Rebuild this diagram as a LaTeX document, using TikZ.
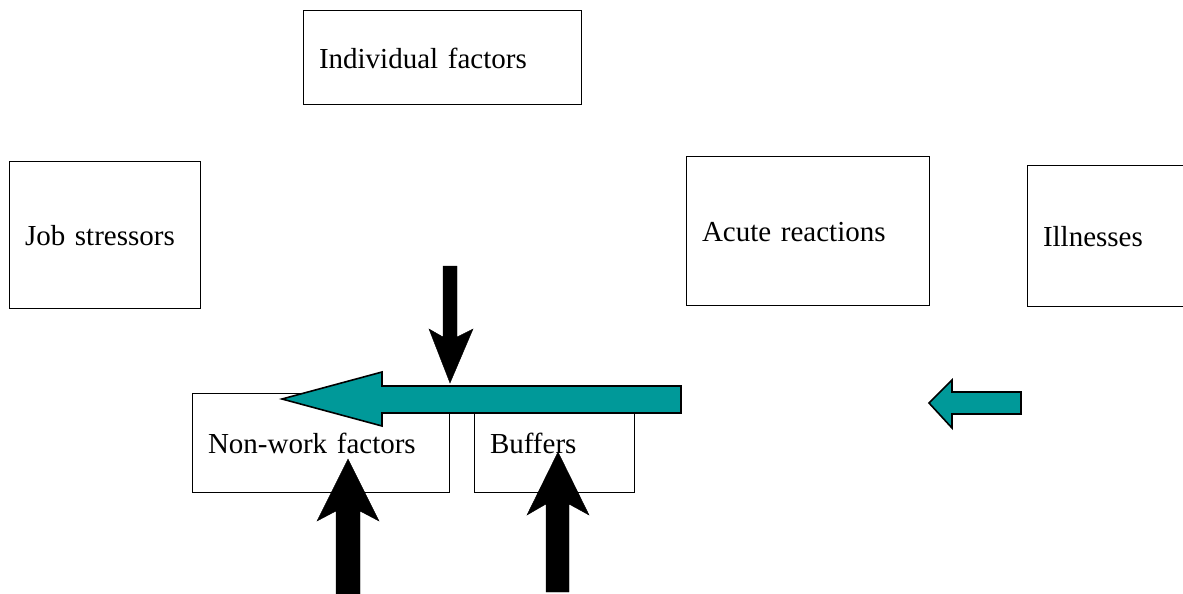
\documentclass[tikz,border=0pt]{standalone}
\usepackage{fontspec}
\setmainfont{Liberation Serif}
\definecolor{tealarrow}{RGB}{0,153,153}
\begin{document}
\begin{tikzpicture}[x=1pt,y=-1pt,
  box/.style={draw, line width=1pt, inner xsep=16pt, inner ysep=0pt,
    align=left, text height=21pt, text depth=0pt,
    font=\fontsize{29}{34}\selectfont},
  tealblock/.style={fill=tealarrow, draw=black, line width=1.6pt, line join=miter},
  blackblock/.style={fill=black, draw=black, line width=0.4pt, line join=miter}]
\useasboundingbox (0,0) rectangle (1183,594);
\clip (0,0) rectangle (1183,594);
% boxes
\node[box, text width=246pt, minimum height=93pt] (ind) at (442,57.5) {Individual factors};
\node[box, text width=159pt, minimum height=147pt] (job) at (104.5,234.5) {Job stressors};
\node[box, text width=211pt, minimum height=149pt] (acute) at (807.5,230.5) {Acute reactions};
\node[box, text width=141pt, minimum height=141pt] (ill) at (1113.5,235.5) {Illnesses};
\node[box, text width=225pt, minimum height=99pt] (nonwork) at (320.5,442.5) {Non-work factors};
\node[box, text width=128pt, minimum height=99pt] (buf) at (554,442.5) {Buffers};
% big teal arrow (pointing left)
\draw[tealblock] (681,386) -- (382,386) -- (382,372) -- (282,399) -- (382,426) -- (382,413) -- (681,413) -- cycle;
% small teal arrow
\draw[tealblock] (1021,392) -- (952,392) -- (952,380) -- (929,403) -- (952,428) -- (952,414) -- (1021,414) -- cycle;
% black down arrow
\draw[blackblock] (443,266) -- (457,266) -- (457,337) -- (473,329) -- (450,383) -- (429,329) -- (443,337) -- cycle;
% black up arrows
\draw[blackblock] (336,600) -- (336,511) -- (317,521) -- (348,459) -- (379,521) -- (360,511) -- (360,600) -- cycle;
\draw[blackblock] (546,592) -- (546,504) -- (527,515) -- (558,452) -- (589,515) -- (569,504) -- (569,592) -- cycle;
\end{tikzpicture}
\end{document}
